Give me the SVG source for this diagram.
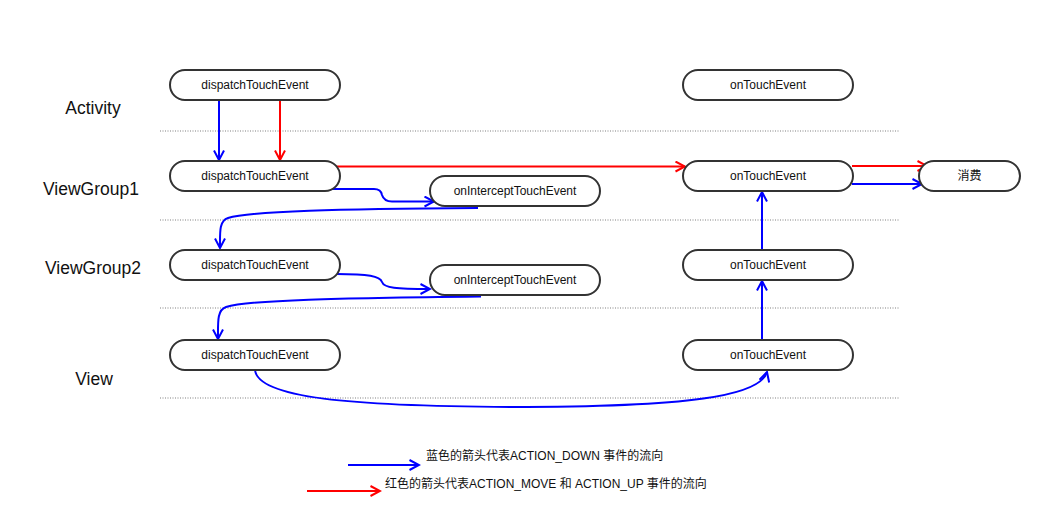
<svg xmlns="http://www.w3.org/2000/svg" width="1040" height="515" viewBox="0 0 1040 515">
  <style>
    .node rect { fill: #fff; stroke: #333; stroke-width: 2; }
    .node text { font-family: "Liberation Sans", Arial, "Noto Sans CJK SC", sans-serif; font-size: 12px; fill: #111; text-anchor: middle; dominant-baseline: central; }
    .lane { font-family: "Liberation Sans", Arial, sans-serif; font-size: 17.5px; fill: #111; text-anchor: middle; dominant-baseline: central; }
    .sep { stroke: #aaa; stroke-width: 1.5; stroke-dasharray: 1 1.5; }
    .blue { fill: none; stroke: #0000ff; stroke-width: 2; marker-end: url(#arrBlue); }
    .red { fill: none; stroke: #ff0000; stroke-width: 2; marker-end: url(#arrRed); }
    .legend { font-family: "Liberation Sans", Arial, "Noto Sans CJK SC", sans-serif; font-size: 12px; fill: #111; dominant-baseline: central; }
  </style>
  <defs>
    <marker id="arrBlue" viewBox="0 0 12 12" markerWidth="12" markerHeight="12" refX="10.5" refY="6" orient="auto" markerUnits="userSpaceOnUse">
      <path d="M1,1 L10.5,6 L1,11" fill="none" stroke="#0000ff" stroke-width="2"/>
    </marker>
    <marker id="arrRed" viewBox="0 0 12 12" markerWidth="12" markerHeight="12" refX="10.5" refY="6" orient="auto" markerUnits="userSpaceOnUse">
      <path d="M1,1 L10.5,6 L1,11" fill="none" stroke="#ff0000" stroke-width="2"/>
    </marker>
  </defs>
  <rect width="1040" height="515" fill="#fff"/>

  <!-- lane separators -->
  <g id="separators">
    <line class="sep" x1="160" y1="131" x2="900" y2="131"/>
    <line class="sep" x1="160" y1="220" x2="900" y2="220"/>
    <line class="sep" x1="160" y1="308" x2="900" y2="308"/>
    <line class="sep" x1="160" y1="398" x2="900" y2="398"/>
  </g>

  <!-- lane titles -->
  <g id="lanes">
    <text class="lane" x="93" y="108">Activity</text>
    <text class="lane" x="91" y="189">ViewGroup1</text>
    <text class="lane" x="93" y="268">ViewGroup2</text>
    <text class="lane" x="94" y="379">View</text>
  </g>

  <!-- connectors -->
  <g id="connectors">
    <!-- Activity dispatch -> ViewGroup1 dispatch -->
    <path class="blue" d="M219 100 L219 160"/>
    <path class="red" d="M280 100 L280 160"/>
    <!-- ViewGroup1 dispatch -> onTouchEvent (move/up) -->
    <path class="red" d="M336 166.5 L685 166.5"/>
    <!-- ViewGroup1 onTouchEvent -> consumed -->
    <path class="red" d="M852 166 L927 166"/>
    <path class="blue" d="M852 184 L922 184"/>
    <!-- ViewGroup1 dispatch -> onInterceptTouchEvent -->
    <path class="blue" d="M331 189 L374 189 Q381 189 382 195 Q384 201.5 392 201.5 L434 201.5"/>
    <!-- ViewGroup1 intercept -> ViewGroup2 dispatch -->
    <path class="blue" d="M478 208 C340 209 250 211 228 218 C219 221 220 232 220 248"/>
    <!-- ViewGroup2 dispatch -> onInterceptTouchEvent -->
    <path class="blue" d="M337 274 C368 274 380 276 382 282 C384 288 396 289 430 289"/>
    <!-- ViewGroup2 intercept -> View dispatch -->
    <path class="blue" d="M481 296.5 C340 298 248 300 226 307 C217 310 218 322 218 339"/>
    <!-- View dispatch -> View onTouchEvent -->
    <path class="blue" d="M255 370 C258 398 350 406 510 407 C690 407 760 396 767 372"/>
    <!-- upward returns through onTouchEvent -->
    <path class="blue" d="M762 340 L762 281"/>
    <path class="blue" d="M762 250 L762 192"/>
  </g>

  <!-- nodes -->
  <g id="activity-dispatch" class="node">
    <rect x="170" y="70" width="170" height="30" rx="15"/>
    <text x="255" y="85">dispatchTouchEvent</text>
  </g>
  <g id="activity-ontouch" class="node">
    <rect x="683" y="70" width="170" height="30" rx="15"/>
    <text x="768" y="85">onTouchEvent</text>
  </g>
  <g id="vg1-dispatch" class="node">
    <rect x="170" y="161" width="170" height="30" rx="15"/>
    <text x="255" y="176">dispatchTouchEvent</text>
  </g>
  <g id="vg1-intercept" class="node">
    <rect x="430" y="176" width="170" height="30" rx="15"/>
    <text x="515" y="191">onInterceptTouchEvent</text>
  </g>
  <g id="vg1-ontouch" class="node">
    <rect x="683" y="161" width="170" height="30" rx="15"/>
    <text x="768" y="176">onTouchEvent</text>
  </g>
  <g id="consumed" class="node">
    <rect x="919" y="161" width="101" height="30" rx="15"/>
    <text x="969.5" y="176">消费</text>
  </g>
  <g id="vg2-dispatch" class="node">
    <rect x="170" y="250" width="170" height="30" rx="15"/>
    <text x="255" y="265">dispatchTouchEvent</text>
  </g>
  <g id="vg2-intercept" class="node">
    <rect x="430" y="265" width="170" height="30" rx="15"/>
    <text x="515" y="280">onInterceptTouchEvent</text>
  </g>
  <g id="vg2-ontouch" class="node">
    <rect x="683" y="250" width="170" height="30" rx="15"/>
    <text x="768" y="265">onTouchEvent</text>
  </g>
  <g id="view-dispatch" class="node">
    <rect x="170" y="340" width="170" height="30" rx="15"/>
    <text x="255" y="355">dispatchTouchEvent</text>
  </g>
  <g id="view-ontouch" class="node">
    <rect x="683" y="340" width="170" height="30" rx="15"/>
    <text x="768" y="355">onTouchEvent</text>
  </g>

  <!-- legend -->
  <g id="legend">
    <path class="blue" d="M348 465 L419 465"/>
    <text class="legend" x="426" y="456">蓝色的箭头代表ACTION_DOWN 事件的流向</text>
    <path class="red" d="M307 491 L380 491"/>
    <text class="legend" x="385" y="484">红色的箭头代表ACTION_MOVE 和 ACTION_UP 事件的流向</text>
  </g>
</svg>
